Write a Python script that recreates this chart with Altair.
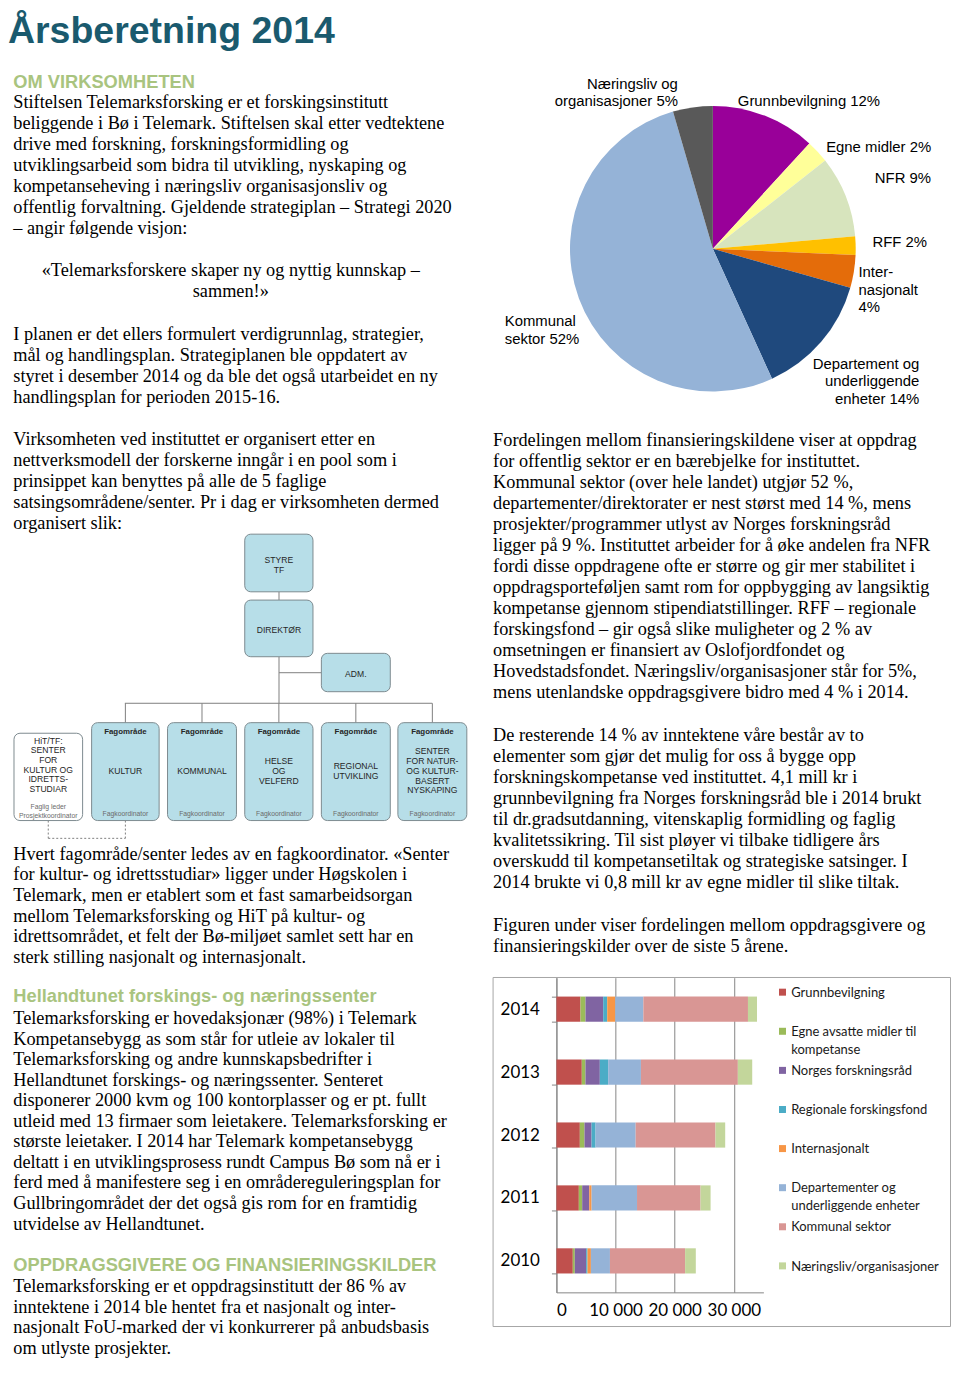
import altair as alt
import pandas as pd

# ------------------------------------------------------------------ data
TITLE = "Årsberetning 2014"
HEAD_OM = "OM VIRKSOMHETEN"
LINES_OM = [
    "Stiftelsen Telemarksforsking er et forskingsinstitutt",
    "beliggende i Bø i Telemark. Stiftelsen skal etter vedtektene",
    "drive med forskning, forskningsformidling og",
    "utviklingsarbeid som bidra til utvikling, nyskaping og",
    "kompetanseheving i næringsliv organisasjonsliv og",
    "offentlig forvaltning. Gjeldende strategiplan – Strategi 2020",
    "– angir følgende visjon:",
]
LINES_QUOTE = ["«Telemarksforskere skaper ny og nyttig kunnskap –", "sammen!»"]
LINES_PLAN = [
    "I planen er det ellers formulert verdigrunnlag, strategier,",
    "mål og handlingsplan. Strategiplanen ble oppdatert av",
    "styret i desember 2014 og da ble det også utarbeidet en ny",
    "handlingsplan for perioden 2015-16.",
]
LINES_ORG = [
    "Virksomheten ved instituttet er organisert etter en",
    "nettverksmodell der forskerne inngår i en pool som i",
    "prinsippet kan benyttes på alle de 5 faglige",
    "satsingsområdene/senter. Pr i dag er virksomheten dermed",
    "organisert slik:",
]
LINES_FAG = [
    "Hvert fagområde/senter ledes av en fagkoordinator. «Senter",
    "for kultur- og idrettsstudiar» ligger under Høgskolen i",
    "Telemark, men er etablert som et fast samarbeidsorgan",
    "mellom Telemarksforsking og HiT på kultur- og",
    "idrettsområdet, et felt der Bø-miljøet samlet sett har en",
    "sterk stilling nasjonalt og internasjonalt.",
]
HEAD_HELL = "Hellandtunet forskings- og næringssenter"
LINES_HELL = [
    "Telemarksforsking er hovedaksjonær (98%) i Telemark",
    "Kompetansebygg as som står for utleie av lokaler til",
    "Telemarksforsking og andre kunnskapsbedrifter i",
    "Hellandtunet forskings- og næringssenter. Senteret",
    "disponerer 2000 kvm og 100 kontorplasser og er pt. fullt",
    "utleid med 13 firmaer som leietakere. Telemarksforsking er",
    "største leietaker. I 2014 har Telemark kompetansebygg",
    "deltatt i en utviklingsprosess rundt Campus Bø som nå er i",
    "ferd med å manifestere seg i en områdereguleringsplan for",
    "Gullbringområdet der det også gis rom for en framtidig",
    "utvidelse av Hellandtunet.",
]
HEAD_OPP = "OPPDRAGSGIVERE OG FINANSIERINGSKILDER"
LINES_OPP = [
    "Telemarksforsking er et oppdragsinstitutt der 86 % av",
    "inntektene i 2014 ble hentet fra et nasjonalt og inter-",
    "nasjonalt FoU-marked der vi konkurrerer på anbudsbasis",
    "om utlyste prosjekter.",
]
LINES_FORD = [
    "Fordelingen mellom finansieringskildene viser at oppdrag",
    "for offentlig sektor er en bærebjelke for instituttet.",
    "Kommunal sektor (over hele landet) utgjør 52 %,",
    "departementer/direktorater er nest størst med 14 %, mens",
    "prosjekter/programmer utlyst av Norges forskningsråd",
    "ligger på 9 %. Instituttet arbeider for å øke andelen fra NFR",
    "fordi disse oppdragene ofte er større og gir mer stabilitet i",
    "oppdragsporteføljen samt rom for oppbygging av langsiktig",
    "kompetanse gjennom stipendiatstillinger. RFF – regionale",
    "forskingsfond – gir også slike muligheter og 2 % av",
    "omsetningen er finansiert av Oslofjordfondet og",
    "Hovedstadsfondet. Næringsliv/organisasjoner står for 5%,",
    "mens utenlandske oppdragsgivere bidro med 4 % i 2014.",
]
LINES_REST = [
    "De resterende 14 % av inntektene våre består av to",
    "elementer som gjør det mulig for oss å bygge opp",
    "forskningskompetanse ved instituttet. 4,1 mill kr i",
    "grunnbevilgning fra Norges forskningsråd ble i 2014 brukt",
    "til dr.gradsutdanning, vitenskaplig formidling og faglig",
    "kvalitetssikring. Til sist pløyer vi tilbake tidligere års",
    "overskudd til kompetansetiltak og strategiske satsinger. I",
    "2014 brukte vi 0,8 mill kr av egne midler til slike tiltak.",
]
LINES_FIG = [
    "Figuren under viser fordelingen mellom oppdragsgivere og",
    "finansieringskilder over de siste 5 årene.",
]

# org chart labels
ORG_STYRE = ["STYRE", "TF"]
ORG_DIR = ["DIREKTØR"]
ORG_ADM = ["ADM."]
ORG_FAG_HEAD = "Fagområde"
ORG_FAG = [["KULTUR"], ["KOMMUNAL"], ["HELSE", "OG", "VELFERD"],
           ["REGIONAL", "UTVIKLING"],
           ["SENTER", "FOR NATUR-", "OG KULTUR-", "BASERT", "NYSKAPING"]]
ORG_FAG_FOOT = "Fagkoordinator"
ORG_HIT = ["HiT/TF:", "SENTER", "FOR", "KULTUR OG", "IDRETTS-", "STUDIAR"]
ORG_HIT_FOOT = ["Faglig leder", "Prosjektkoordinator"]

# pie (2014 shares, %)
PIE_CATS = ["Grunnbevilgning", "Egne midler", "NFR", "RFF", "Internasjonalt",
            "Departement", "Kommunal sektor", "Næringsliv"]
PIE_SHARES = [11.8, 2.6, 9.2, 2.1, 3.7, 13.8, 52.3, 4.5]
PIE_LABELS = [["Grunnbevilgning 12%"], ["Egne midler 2%"], ["NFR 9%"], ["RFF 2%"],
              ["Inter-", "nasjonalt", "4%"],
              ["Departement og", "underliggende", "enheter 14%"],
              ["Kommunal", "sektor 52%"], ["Næringsliv og", "organisasjoner 5%"]]

# stacked bars (1000 kr)
YEARS = ["2014", "2013", "2012", "2011", "2010"]
SERIES = ["Grunnbevilgning", "Egne avsatte midler til kompetanse",
          "Norges forskningsråd", "Regionale forskingsfond", "Internasjonalt",
          "Departementer og underliggende enheter", "Kommunal sektor",
          "Næringsliv/organisasjoner"]
LEGEND_LINES = [["Grunnbevilgning"], ["Egne avsatte midler til", "kompetanse"],
                ["Norges forskningsråd"], ["Regionale forskingsfond"],
                ["Internasjonalt"], ["Departementer og", "underliggende enheter"],
                ["Kommunal sektor"], ["Næringsliv/organisasjoner"]]
GRUNNBEVILGNING = [4070, 4290, 3960, 3790, 2770]
EGNE_MIDLER = [850, 620, 790, 570, 340]
NFR = [2990, 2430, 1190, 1190, 1920]
RFF = [680, 1410, 680, 0, 230]
INTERNASJONALT = [1360, 0, 0, 400, 570]
DEPARTEMENTER = [4750, 5540, 6780, 7680, 3220]
KOMMUNAL = [17690, 16390, 13500, 10740, 12710]
NAERINGSLIV = [1530, 2430, 1640, 1700, 1810]
BAR_VALUES = [GRUNNBEVILGNING, EGNE_MIDLER, NFR, RFF, INTERNASJONALT,
              DEPARTEMENTER, KOMMUNAL, NAERINGSLIV]

# ------------------------------------------------------------------ styles
TITLE_COLOR = "#1a5a6e"
HEAD_COLOR = "#a9c47f"
PIE_COLORS = ["#990099", "#FFFF99", "#D7E4BD", "#FFC000", "#E46C0A",
              "#1F497D", "#95B3D7", "#595959"]
BAR_COLORS = ["#C0504D", "#9BBB59", "#8064A2", "#4BACC6", "#F79646",
              "#95B3D7", "#D99694", "#C3D69B"]
SERIF = "Liberation Serif"
SANS = "Liberation Sans"
CHART_FONT = "Lato"
BODY = 18.3
LINE = 21.05

# ------------------------------------------------------------------ layout (page px)
SPLIT_X = 556.7      # left edge of the bar plot / right column
RIGHT_X1 = 952.0     # right edge of the page content
BAR_TOP = 977.5
PAGE_TOP = 8
PAGE_BOTTOM = 1360
LX = 13.3
RX = 493.3
# lower part of the left column is squeezed a little so the page fits 1376 px
SQUEEZE_FROM, SQUEEZE_K = 830.0, 0.978


def ly(y):
    return y if y <= SQUEEZE_FROM else SQUEEZE_FROM + (y - SQUEEZE_FROM) * SQUEEZE_K


def pixel_scales(x0, x1, y0, y1):
    return (alt.Scale(domain=[x0, x1], nice=False, zero=False),
            alt.Scale(domain=[y0, y1], nice=False, zero=False, reverse=True))


def block(lines, x, y0, step=LINE, fy=lambda v: v):
    return [(t, x, fy(y0 + i * step)) for i, t in enumerate(lines)]


def text_layer(rows, xs, ys, font, size, color="#000000", weight="normal",
               align="left", baseline="alphabetic"):
    df = pd.DataFrame(rows, columns=["text", "x", "y"])
    return alt.Chart(df).mark_text(
        font=font, fontSize=size, fontWeight=weight, color=color,
        align=align, baseline=baseline,
    ).encode(
        x=alt.X("x:Q", scale=xs, axis=None),
        y=alt.Y("y:Q", scale=ys, axis=None),
        text="text:N",
    )


# ------------------------------------------------------------------ left column
LXS, LYS = pixel_scales(PAGE_TOP, SPLIT_X, PAGE_TOP, PAGE_BOTTOM)

left_layers = []
left_layers.append(text_layer([(TITLE, 8.0, 42.5)], LXS, LYS, SANS, 37.5,
                              TITLE_COLOR, "bold"))
left_layers.append(text_layer(
    [(HEAD_OM, LX, 87.3), (HEAD_HELL, LX, ly(1006.7)), (HEAD_OPP, LX, ly(1281.7))],
    LXS, LYS, SANS, BODY, HEAD_COLOR, "bold"))
body_rows = (block(LINES_OM, LX, 107.3) + block(LINES_PLAN, LX, 340.0)
             + block(LINES_ORG, LX, 445.0)
             + block(LINES_FAG, LX, 860.7, fy=ly)
             + block(LINES_HELL, LX, 1028.7, fy=ly)
             + block(LINES_OPP, LX, 1303.3, fy=ly))
left_layers.append(text_layer(body_rows, LXS, LYS, SERIF, BODY))
left_layers.append(text_layer(block(LINES_QUOTE, 231, 276.0), LXS, LYS, SERIF,
                              BODY, align="center"))

# org chart boxes
FAG_X = [(91.7, 159.3), (167.7, 236.7), (245, 313.3), (321.7, 390.7), (398.3, 467.3)]
FAG_Y = (722.7, 820.7)
teal_boxes = pd.DataFrame(
    [(245, 313.3, 534, 591.7), (245, 313.3, 600, 656.7), (321.7, 390.7, 653.3, 691.7)]
    + [(a, b, FAG_Y[0], FAG_Y[1]) for a, b in FAG_X],
    columns=["x", "x2", "y", "y2"])
white_boxes = pd.DataFrame([(14, 82.7, 733.3, 820.7)], columns=["x", "x2", "y", "y2"])


def box_layer(df, fill):
    return alt.Chart(df).mark_rect(
        cornerRadius=6, fill=fill, stroke="#7d8b90", strokeWidth=1
    ).encode(
        x=alt.X("x:Q", scale=LXS, axis=None), x2="x2:Q",
        y=alt.Y("y:Q", scale=LYS, axis=None), y2="y2:Q")


conn = pd.DataFrame(
    [(279.3, 279.3, 591.7, 600), (279.3, 279.3, 656.7, 703.3),
     (279.3, 321.7, 672.7, 672.7), (125, 432.7, 703.3, 703.3)]
    + [((a + b) / 2, (a + b) / 2, 703.3, 722.7) for a, b in FAG_X],
    columns=["x", "x2", "y", "y2"])
dashed = pd.DataFrame(
    [(48.3, 48.3, 820.7, 838.5), (125.5, 125.5, 820.7, 838.5),
     (48.3, 125.5, 838.5, 838.5)], columns=["x", "x2", "y", "y2"])


def rule_layer(df, dash=None):
    kw = dict(color="#7f7f7f", strokeWidth=1)
    if dash:
        kw["strokeDash"] = dash
    return alt.Chart(df).mark_rule(**kw).encode(
        x=alt.X("x:Q", scale=LXS, axis=None), x2="x2:Q",
        y=alt.Y("y:Q", scale=LYS, axis=None), y2="y2:Q")


left_layers += [rule_layer(conn), rule_layer(dashed, [2, 2]),
                box_layer(teal_boxes, "#b7dee8"), box_layer(white_boxes, "#ffffff")]

ORG_STEP = 9.8
org_rows = []
org_rows += block(ORG_STYRE, 279.2, 560.0, ORG_STEP)
org_rows += block(ORG_DIR, 279.2, 630.0, ORG_STEP)
org_rows += block(ORG_ADM, 356.2, 673.5, ORG_STEP)
for (a, b), lines in zip(FAG_X, ORG_FAG):
    c = (a + b) / 2
    org_rows += block(lines, c, 771.0 - (len(lines) - 1) * ORG_STEP / 2, ORG_STEP)
org_rows += block(ORG_HIT, 48.3, 740.7, 9.66)
left_layers.append(text_layer(org_rows, LXS, LYS, SANS, 8.6, "#262626",
                              align="center", baseline="middle"))
left_layers.append(text_layer([(ORG_FAG_HEAD, (a + b) / 2, 732.0) for a, b in FAG_X],
                              LXS, LYS, SANS, 7.9, "#262626", "bold",
                              align="center", baseline="middle"))
left_layers.append(text_layer(
    [(ORG_FAG_FOOT, (a + b) / 2, 814.0) for a, b in FAG_X]
    + block(ORG_HIT_FOOT, 48.3, 807.3, 8.4),
    LXS, LYS, SANS, 6.8, "#6b6b6b", align="center", baseline="middle"))

left = alt.layer(*left_layers).properties(width=SPLIT_X - PAGE_TOP,
                                          height=PAGE_BOTTOM - PAGE_TOP)

# ------------------------------------------------------------------ right top: pie + text
RXS, RYS = pixel_scales(SPLIT_X, RIGHT_X1, PAGE_TOP, BAR_TOP)
PIE_CX, PIE_CY, PIE_R = 713.3, 248.3, 143

pie_df = pd.DataFrame({"cat": PIE_CATS, "share": PIE_SHARES,
                       "idx": list(range(len(PIE_CATS)))})
pie = alt.Chart(pie_df).mark_arc(radius=PIE_R).encode(
    theta=alt.Theta("share:Q", stack=True),
    order=alt.Order("idx:Q"),
    color=alt.Color("cat:N", scale=alt.Scale(domain=PIE_CATS, range=PIE_COLORS),
                    legend=None),
    x=alt.value(PIE_CX - SPLIT_X),
    y=alt.value(PIE_CY - PAGE_TOP),
)

PIE_LABEL_POS = {  # x, first baseline, align
    "Grunnbevilgning": (738.3, 105.4, "left"),
    "Egne midler": (826.7, 151.0, "left"),
    "NFR": (931.7, 182.7, "right"),
    "RFF": (873.0, 247.0, "left"),
    "Internasjonalt": (859.0, 277.0, "left"),
    "Departement": (920.0, 368.7, "right"),
    "Kommunal sektor": (505.0, 326.0, "left"),
    "Næringsliv": (678.3, 88.0, "right"),
}
left_lab, right_lab = [], []
for cat, lines in zip(PIE_CATS, PIE_LABELS):
    x, y, al = PIE_LABEL_POS[cat]
    (left_lab if al == "left" else right_lab).extend(block(lines, x, y, 17.4))

right_layers = [
    pie,
    text_layer(left_lab, RXS, RYS, SANS, 14.9),
    text_layer(right_lab, RXS, RYS, SANS, 14.9, align="right"),
    text_layer(block(LINES_FORD, RX, 445.7) + block(LINES_REST, RX, 740.7)
               + block(LINES_FIG, RX, 931.7), RXS, RYS, SERIF, BODY),
]
right_top = alt.layer(*right_layers).properties(width=RIGHT_X1 - SPLIT_X,
                                                height=BAR_TOP - PAGE_TOP)

# ------------------------------------------------------------------ bar chart
bar_rows = []
for si, (s, vals) in enumerate(zip(SERIES, BAR_VALUES)):
    for y, v in zip(YEARS, vals):
        bar_rows.append({"year": y, "series": s, "value": v, "sidx": si})
bar_df = pd.DataFrame(bar_rows)

BAR_W, BAR_H = 207.2, 315
color_scale = alt.Scale(domain=SERIES, range=BAR_COLORS)

box = alt.Chart(pd.DataFrame({"k": [0]})).mark_rect(
    fillOpacity=0, stroke="#a6a6a6", strokeWidth=1
).encode(x=alt.value(493.3 - SPLIT_X), x2=alt.value(RIGHT_X1 - 0.8 - SPLIT_X),
         y=alt.value(-0.2), y2=alt.value(1326.7 - BAR_TOP))

bars = alt.Chart(bar_df).mark_bar().encode(
    x=alt.X("value:Q", stack="zero",
            scale=alt.Scale(domain=[0, 35000], nice=False),
            axis=alt.Axis(values=[0, 10000, 20000, 30000], title=None,
                          labelExpr="replace(format(datum.value, ','), ',', ' ')",
                          grid=True, gridColor="#868686", domainColor="#868686",
                          ticks=False, labelFont=CHART_FONT, labelFontSize=17,
                          labelColor="#000000", labelPadding=10)),
    y=alt.Y("year:N", sort=YEARS,
            scale=alt.Scale(paddingInner=0.6, paddingOuter=0.3),
            axis=alt.Axis(title=None, tickBand="extent", tickSize=5,
                          tickColor="#868686", domainColor="#868686",
                          labelFont=CHART_FONT, labelFontSize=17,
                          labelColor="#000000", labelPadding=12)),
    color=alt.Color("series:N", scale=color_scale, legend=None),
    order=alt.Order("sidx:Q"),
)

leg_df = pd.DataFrame({
    "series": SERIES,
    "line1": [l[0] for l in LEGEND_LINES],
    "line2": [l[1] if len(l) > 1 else "" for l in LEGEND_LINES],
})
leg_y = alt.Y("series:N", sort=SERIES, axis=None,
              scale=alt.Scale(type="point", padding=0,
                              range=[992 - BAR_TOP, 1266 - BAR_TOP]))
leg_sq = alt.Chart(leg_df).mark_point(shape="square", filled=True, size=49,
                                      opacity=1).encode(
    x=alt.value(783 - SPLIT_X), y=leg_y,
    color=alt.Color("series:N", scale=color_scale, legend=None))
leg_t1 = alt.Chart(leg_df).mark_text(align="left", baseline="alphabetic", dy=4.7,
                                     font=CHART_FONT, fontSize=13,
                                     color="#1a1a1a").encode(
    x=alt.value(791.7 - SPLIT_X), y=leg_y, text="line1:N")
leg_t2 = alt.Chart(leg_df).mark_text(align="left", baseline="alphabetic", dy=22.7,
                                     font=CHART_FONT, fontSize=13,
                                     color="#1a1a1a").encode(
    x=alt.value(791.7 - SPLIT_X), y=leg_y, text="line2:N")

bar_chart = alt.layer(box, bars, leg_sq, leg_t1, leg_t2).resolve_scale(
    y="independent").properties(width=BAR_W, height=BAR_H)

# ------------------------------------------------------------------ page
right = alt.vconcat(right_top, bar_chart, spacing=0, bounds="flush").resolve_scale(
    color="independent")
chart = alt.hconcat(left, right, spacing=0, bounds="flush").resolve_scale(
    color="independent").properties(padding=0).configure_view(strokeWidth=0)

chart.save("out.html", embed_options={"renderer": "svg", "actions": False})
